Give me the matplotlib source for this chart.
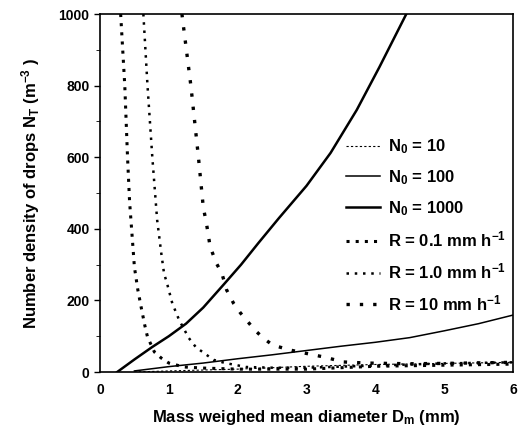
import numpy as np
import matplotlib
matplotlib.use('Agg')
import matplotlib.pyplot as plt
from matplotlib import rcParams
from matplotlib.ticker import MultipleLocator

rcParams['font.family'] = 'Liberation Sans'
rcParams['font.weight'] = 'bold'
rcParams['mathtext.fontset'] = 'custom'
rcParams['mathtext.rm'] = 'Liberation Sans:bold'
rcParams['mathtext.it'] = 'Liberation Sans:bold'
rcParams['mathtext.bf'] = 'Liberation Sans:bold'

# N_T vs Dm for fixed N0
d_n10 = [0.5, 1.0, 2.0, 3.0, 4.0, 5.0, 6.0]
n_n10 = [0, 3, 8, 16, 21, 24, 27]
d_n100 = [0.5, 1.0, 1.5, 2.0, 2.5, 3.0, 3.5, 4.0, 4.5, 5.0, 5.5, 6.0]
n_n100 = [3, 15, 25, 37, 48, 60, 72, 83, 96, 115, 135, 159]
d_n1000 = [0.25, 0.5, 0.76, 1.0, 1.25, 1.5, 1.8, 2.05, 2.3, 2.6, 3.0, 3.35, 3.73, 4.06, 4.45]
n_n1000 = [0, 35, 70, 100, 135, 180, 245, 300, 360, 430, 520, 612, 732, 852, 1000]

# N_T vs Dm for fixed rain rate R
d_r01 = [0.30, 0.36, 0.40, 0.43, 0.46, 0.50, 0.55, 0.60, 0.65, 0.69, 0.79, 0.89, 1.0, 1.22, 1.5, 2.0, 3.0, 4.0, 6.0]
n_r01 = [1000, 800, 600, 475, 397, 293, 229, 179, 131, 98, 56, 39, 25, 14, 11, 8, 8, 16, 22]
d_r1 = [0.63, 0.69, 0.76, 0.83, 0.89, 0.93, 0.98, 1.05, 1.15, 1.29, 1.39, 1.51, 1.65, 1.82, 1.96, 2.12, 2.5, 3.0, 4.0, 5.0, 6.0]
n_r1 = [1000, 800, 600, 425, 332, 276, 243, 192, 145, 95, 70, 53, 34, 25, 20, 14, 12, 12, 18, 24, 27]
d_r10 = [1.19, 1.32, 1.43, 1.5, 1.55, 1.6, 1.69, 1.77, 1.84, 1.94, 2.04, 2.25, 2.37, 2.51, 2.77, 2.97, 3.25, 3.54, 3.87, 4.5, 5.0, 6.0]
n_r10 = [1000, 800, 600, 461, 411, 350, 304, 276, 229, 192, 165, 117, 95, 75, 61, 53, 42, 28, 25, 23, 24, 27]

fig = plt.figure(figsize=(5.2, 4.32), dpi=100)
ax = fig.add_axes([100/520, 60/432, 413/520, 358/432])

ax.plot(d_n10, n_n10, color='black', lw=0.8, ls=(0, (2, 2)), label='N$_0$ = 10')
ax.plot(d_n100, n_n100, color='black', lw=1.1, label='N$_0$ = 100')
ax.plot(d_n1000, n_n1000, color='black', lw=1.8, label='N$_0$ = 1000')
ax.plot(d_r01, n_r01, color='black', lw=2.2, ls=(0, (1, 2)), label='R = 0.1 mm h$^{-1}$')
ax.plot(d_r1, n_r1, color='black', lw=1.8, ls=(0, (1, 2.3)), label='R = 1.0 mm h$^{-1}$')
ax.plot(d_r10, n_r10, color='black', lw=2.4, ls=(0, (1, 3)), label='R = 10 mm h$^{-1}$')

ax.set_xlim(0, 6)
ax.set_ylim(0, 1000)
ax.xaxis.set_major_locator(MultipleLocator(1))
ax.yaxis.set_major_locator(MultipleLocator(200))
ax.yaxis.set_minor_locator(MultipleLocator(100))
ax.tick_params(axis='both', which='major', labelsize=10, length=4, width=1)
ax.tick_params(axis='y', which='minor', length=3)
ax.tick_params(axis='x', length=0, pad=8)
for s in ax.spines.values():
    s.set_linewidth(1.2)

ax.set_xlabel('Mass weighed mean diameter D$_m$ (mm)', fontsize=12, fontweight='bold', labelpad=8)
ax.set_ylabel('Number density of drops N$_T$ (m$^{-3}$ )', fontsize=12, fontweight='bold', labelpad=12)

leg = ax.legend(loc='upper left', bbox_to_anchor=(0.56, 0.697), frameon=False,
                fontsize=12, handlelength=2.0, handletextpad=0.5, labelspacing=0.72)

plt.savefig('out.png', dpi=100)
